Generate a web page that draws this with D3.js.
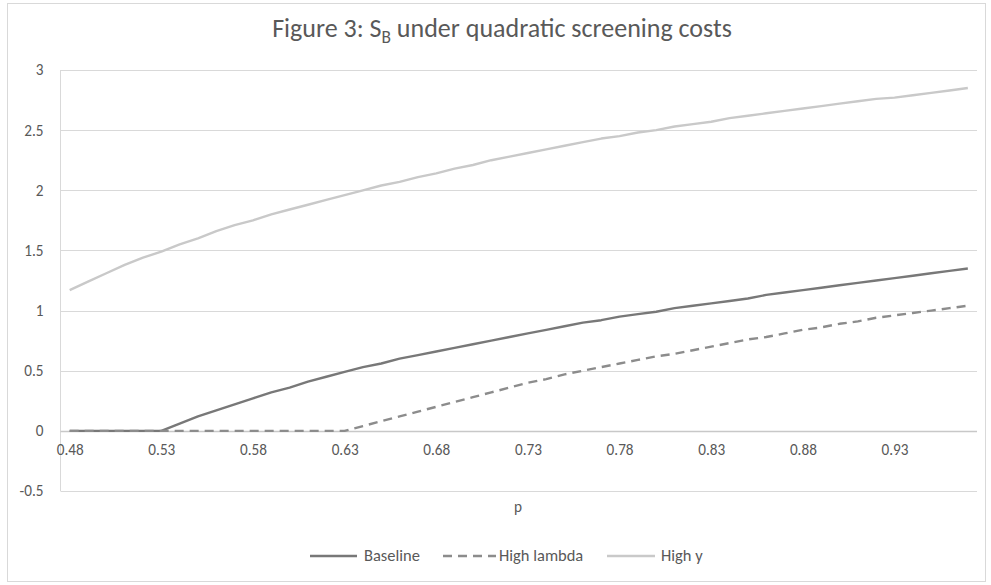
<!DOCTYPE html>
<html>
<head>
<meta charset="utf-8">
<script src="https://cdn.jsdelivr.net/npm/d3@7"></script>
<style>
  html, body { margin: 0; padding: 0; background: #fff; }
  svg { display: block; }
  text { font-family: Carlito, Lato, "Open Sans", sans-serif; fill: #595959; }
</style>
</head>
<body>
<svg id="chart" width="991" height="585"></svg>
<script>
// ---- data ----
const categories = ["0.48","0.49","0.50","0.51","0.52","0.53","0.54","0.55","0.56","0.57",
  "0.58","0.59","0.60","0.61","0.62","0.63","0.64","0.65","0.66","0.67",
  "0.68","0.69","0.70","0.71","0.72","0.73","0.74","0.75","0.76","0.77",
  "0.78","0.79","0.80","0.81","0.82","0.83","0.84","0.85","0.86","0.87",
  "0.88","0.89","0.90","0.91","0.92","0.93","0.94","0.95","0.96","0.97"];
const baseline = [0,0,0,0,0,0,0.06,0.12,0.17,0.22,
  0.27,0.32,0.36,0.41,0.45,0.49,0.53,0.56,0.60,0.63,
  0.66,0.69,0.72,0.75,0.78,0.81,0.84,0.87,0.90,0.92,
  0.95,0.97,0.99,1.02,1.04,1.06,1.08,1.10,1.13,1.15,
  1.17,1.19,1.21,1.23,1.25,1.27,1.29,1.31,1.33,1.35];
const highLambda = [0,0,0,0,0,0,0,0,0,0,
  0,0,0,0,0,0,0.04,0.08,0.12,0.16,
  0.20,0.24,0.28,0.32,0.36,0.40,0.43,0.47,0.50,0.53,
  0.56,0.59,0.62,0.64,0.67,0.70,0.73,0.76,0.78,0.81,
  0.84,0.86,0.89,0.91,0.94,0.96,0.98,1.00,1.02,1.04];
const highY = [1.17,1.24,1.31,1.38,1.44,1.49,1.55,1.60,1.66,1.71,
  1.75,1.80,1.84,1.88,1.92,1.96,2.00,2.04,2.07,2.11,
  2.14,2.18,2.21,2.25,2.28,2.31,2.34,2.37,2.40,2.43,
  2.45,2.48,2.50,2.53,2.55,2.57,2.60,2.62,2.64,2.66,
  2.68,2.70,2.72,2.74,2.76,2.77,2.79,2.81,2.83,2.85];
const xTickLabels = ["0.48","0.53","0.58","0.63","0.68","0.73","0.78","0.83","0.88","0.93"];
const yTicks = [-0.5, 0, 0.5, 1, 1.5, 2, 2.5, 3];
const seriesNames = ["Baseline", "High lambda", "High y"];
const titleMain = "Figure 3: S";
const titleSub = "B";
const titleRest = " under quadratic screening costs";
const xTitle = "p";

// ---- layout ----
const svg = d3.select("#chart");
const plot = { left: 60.5, right: 977, top: 70, bottom: 491 };

// fit a font size so that a sample string reaches a target width
function fitSize(str, target, base) {
  const t = svg.append("text").attr("font-size", base).text(str);
  const w = t.node().getComputedTextLength();
  t.remove();
  return w > 0 ? base * target / w : base;
}
const tickSize = fitSize("0.48", 27, 14);
const legSize = fitSize("Baseline", 56, 14);

svg.append("rect").attr("x", 7.5).attr("y", 3.5).attr("width", 978).attr("height", 578)
  .attr("fill", "#fff").attr("stroke", "#d9d9d9").attr("stroke-width", 1);

const x = d3.scalePoint().domain(categories).range([plot.left, plot.right]).padding(0.5);
const y = d3.scaleLinear().domain([-0.5, 3]).range([plot.bottom, plot.top]);

// gridlines
const grid = svg.append("g");
grid.selectAll("line").data(yTicks.filter(d => d !== 0)).join("line")
  .attr("x1", plot.left).attr("x2", plot.right)
  .attr("y1", d => Math.round(y(d)) + 0.5).attr("y2", d => Math.round(y(d)) + 0.5)
  .attr("stroke", "#d9d9d9").attr("stroke-width", 1);

// y axis line
svg.append("line").attr("x1", plot.left).attr("x2", plot.left)
  .attr("y1", plot.top).attr("y2", plot.bottom)
  .attr("stroke", "#d9d9d9").attr("stroke-width", 1);

// y tick labels
const yAxis = d3.axisLeft(y).tickValues(yTicks).tickSize(0).tickPadding(17)
  .tickFormat(d => String(d));
const gy = svg.append("g").attr("transform", `translate(${plot.left},0)`).call(yAxis);
gy.select(".domain").remove();
gy.selectAll("text").attr("font-size", tickSize).attr("fill", "#595959")
  .style("font-family", "Carlito, Lato, sans-serif");

// x axis at zero
const zeroY = Math.round(y(0)) + 0.5;
svg.append("line").attr("x1", plot.left).attr("x2", plot.right)
  .attr("y1", zeroY).attr("y2", zeroY).attr("stroke", "#c8c8c8").attr("stroke-width", 1.3);
const xAxis = d3.axisBottom(x).tickValues(xTickLabels).tickSize(0).tickPadding(13);
const gx = svg.append("g").attr("transform", `translate(0,${zeroY})`).call(xAxis);
gx.select(".domain").remove();
gx.selectAll("text").attr("font-size", tickSize).attr("fill", "#595959")
  .style("font-family", "Carlito, Lato, sans-serif");

// lines
const line = d3.line().x((d, i) => x(categories[i])).y(d => y(d));
const styles = [
  { data: baseline, color: "#787878", width: 2.4, dash: null },
  { data: highLambda, color: "#8c8c8c", width: 2.4, dash: "9,6" },
  { data: highY, color: "#c9c9c9", width: 2.4, dash: null }
];
styles.forEach(s => {
  svg.append("path").datum(s.data).attr("d", line)
    .attr("fill", "none").attr("stroke", s.color).attr("stroke-width", s.width)
    .attr("stroke-linejoin", "round")
    .attr("stroke-dasharray", s.dash);
});

// title
const title = svg.append("text").attr("x", 502).attr("y", 37).attr("text-anchor", "middle")
  .attr("font-size", 24).attr("fill", "#595959");
title.append("tspan").text(titleMain);
title.append("tspan").attr("font-size", 16).attr("dy", 6).text(titleSub);
title.append("tspan").attr("dy", -6).text(titleRest);
{
  const w = title.node().getComputedTextLength();
  const s = 460 / w;
  title.attr("font-size", 24 * s);
  title.selectAll("tspan").filter((d, i) => i === 1).attr("font-size", 16 * s);
}

// x title
svg.append("text").attr("x", 518).attr("y", 512).attr("text-anchor", "middle")
  .attr("font-size", tickSize).attr("fill", "#595959").text(xTitle);

// legend
const legY = 556;
const legItems = [
  { name: seriesNames[0], x0: 310, x1: 357, tx: 364, s: styles[0] },
  { name: seriesNames[1], x0: 443, x1: 496, tx: 499, s: styles[1] },
  { name: seriesNames[2], x0: 607, x1: 655, tx: 661, s: styles[2] }
];
const leg = svg.append("g");
legItems.forEach(it => {
  leg.append("line").attr("x1", it.x0).attr("x2", it.x1).attr("y1", legY).attr("y2", legY)
    .attr("stroke", it.s.color).attr("stroke-width", it.s.width)
    .attr("stroke-dasharray", it.s.dash);
  leg.append("text").attr("x", it.tx).attr("y", legY + 5).attr("font-size", legSize)
    .attr("fill", "#595959").text(it.name);
});
</script>
</body>
</html>
